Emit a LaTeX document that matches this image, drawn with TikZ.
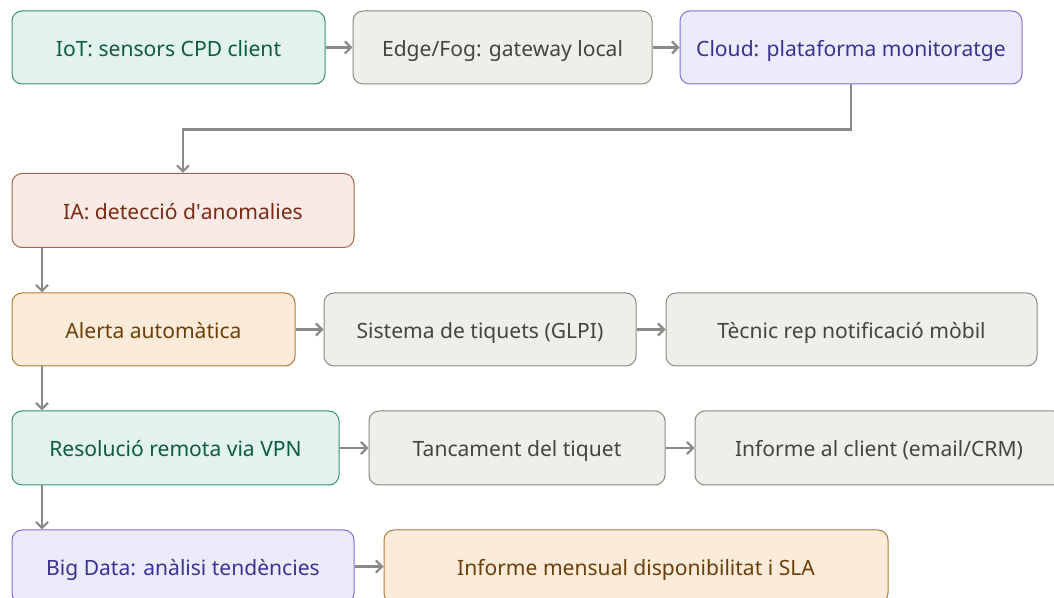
\documentclass[tikz,border=0pt]{standalone}
\usepackage{fontspec}
\setmainfont{Noto Sans}
\usetikzlibrary{arrows.meta}
\definecolor{gfill}{HTML}{E1F3EC}\definecolor{gdraw}{HTML}{3E8F74}\definecolor{gtext}{HTML}{0F5A45}
\definecolor{nfill}{HTML}{F0EEE8}\definecolor{ndraw}{HTML}{8A8A86}\definecolor{ntext}{HTML}{444444}
\definecolor{pfill}{HTML}{ECEBFB}\definecolor{pdraw}{HTML}{7B74CF}\definecolor{ptext}{HTML}{3A3291}
\definecolor{rfill}{HTML}{F9EAE6}\definecolor{rdraw}{HTML}{A3654F}\definecolor{rtext}{HTML}{7A2B14}
\definecolor{ofill}{HTML}{FBEBD8}\definecolor{odraw}{HTML}{B07A3A}\definecolor{otext}{HTML}{6A3F0A}
\definecolor{arrcol}{HTML}{8A8A86}
\tikzset{
  box/.style={draw, rounded corners=7.5pt, line width=0.75pt, inner sep=0pt,
    font=\fontsize{15.8}{18}\selectfont, text height=13pt, text depth=0pt},
  green/.style={box, fill=gfill, draw=gdraw, text=gtext},
  neutral/.style={box, fill=nfill, draw=ndraw, text=ntext},
  purple/.style={box, fill=pfill, draw=pdraw, text=ptext},
  rose/.style={box, fill=rfill, draw=rdraw, text=rtext},
  amber/.style={box, fill=ofill, draw=odraw, text=otext},
  arr/.style={draw=arrcol, line width=1.6pt, -{Straight Barb[length=4.5pt,width=9pt,line width=1.6pt]}},
}
\begin{document}
\begin{tikzpicture}[x=0.75pt,y=-0.75pt]
\clip (0,0) rectangle (1054,598);
\fill[white] (0,0) rectangle (1054,598);
\node[green,  minimum width=313*0.75pt, minimum height=73*0.75pt] (n1) at (168.5,47.5) {IoT: sensors CPD client};
\node[neutral,minimum width=299*0.75pt, minimum height=73*0.75pt] (n2) at (502.5,47.5) {Edge/Fog: gateway local};
\node[purple, minimum width=342*0.75pt, minimum height=73*0.75pt] (n3) at (851,47.5) {Cloud: plataforma monitoratge};
\node[rose,   minimum width=342*0.75pt, minimum height=74*0.75pt] (n4) at (183,210.5) {IA: detecció d\textquotesingle anomalies};
\node[amber,  minimum width=283*0.75pt, minimum height=73*0.75pt] (n5) at (153.5,329.5) {Alerta automàtica};
\node[neutral,minimum width=312*0.75pt, minimum height=73*0.75pt] (n6) at (480,329.5) {Sistema de tiquets (GLPI)};
\node[neutral,minimum width=371*0.75pt, minimum height=73*0.75pt] (n7) at (851.5,329.5) {Tècnic rep notificació mòbil};
\node[green,  minimum width=327*0.75pt, minimum height=74*0.75pt] (n8) at (175.5,448) {Resolució remota via VPN};
\node[neutral,minimum width=296*0.75pt, minimum height=74*0.75pt] (n9) at (517,448) {Tancament del tiquet};
\node[neutral,minimum width=368*0.75pt, minimum height=74*0.75pt] (n10) at (879,448) {Informe al client (email/CRM)};
\node[purple, minimum width=342*0.75pt, minimum height=73*0.75pt] (n11) at (183,566.5) {Big Data: anàlisi tendències};
\node[amber,  minimum width=504*0.75pt, minimum height=73*0.75pt] (n12) at (636,566.5) {Informe mensual disponibilitat i SLA};
\coordinate (lane) at (42,0);
\draw[arr] (n1) -- (n2);
\draw[arr] (n2) -- (n3);
\draw[arr] (n3.south) -- ++(0,45) -| (n4.north);
\draw[arr] (n4.south -| lane) -- (n5.north -| lane);
\draw[arr] (n5) -- (n6);
\draw[arr] (n6) -- (n7);
\draw[arr] (n5.south -| lane) -- (n8.north -| lane);
\draw[arr] (n8) -- (n9);
\draw[arr] (n9) -- (n10);
\draw[arr] (n8.south -| lane) -- (n11.north -| lane);
\draw[arr] (n11) -- (n12);
\end{tikzpicture}
\end{document}
